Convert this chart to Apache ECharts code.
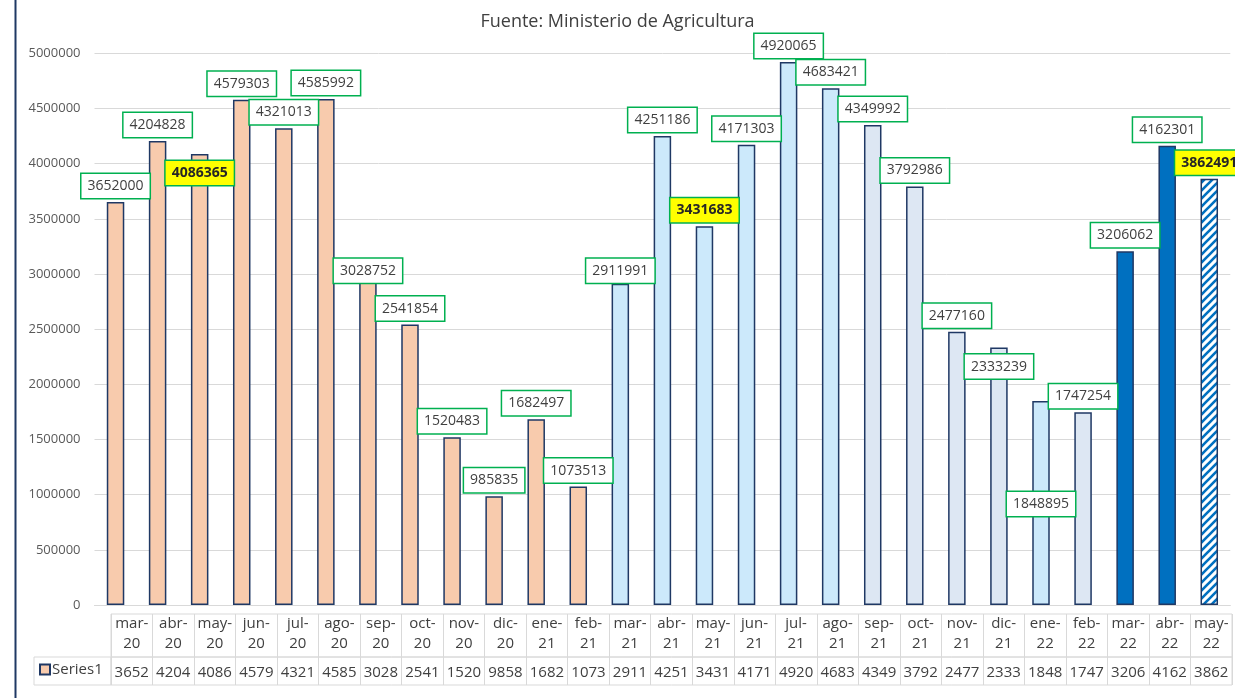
<!DOCTYPE html>
<html>
<head>
<meta charset="utf-8">
<script src="https://cdn.jsdelivr.net/npm/echarts@6/dist/echarts.min.js"></script>
<style>
  html, body { margin: 0; padding: 0; background: #fff; }
  #chart { width: 1235px; height: 698px; }
</style>
</head>
<body>
<div id="chart"></div>
<script>
// data
var months = ['mar-20', 'abr-20', 'may-20', 'jun-20', 'jul-20', 'ago-20', 'sep-20', 'oct-20', 'nov-20',
    'dic-20', 'ene-21', 'feb-21', 'mar-21', 'abr-21', 'may-21', 'jun-21', 'jul-21', 'ago-21', 'sep-21',
    'oct-21', 'nov-21', 'dic-21', 'ene-22', 'feb-22', 'mar-22', 'abr-22', 'may-22'];
var sales = [3652000, 4204828, 4086365, 4579303, 4321013, 4585992, 3028752, 2541854, 1520483,
    985835, 1682497, 1073513, 2911991, 4251186, 3431683, 4171303, 4920065, 4683421, 4349992,
    3792986, 2477160, 2333239, 1848895, 1747254, 3206062, 4162301, 3862491];
var yTicks = [0, 500000, 1000000, 1500000, 2000000, 2500000, 3000000, 3500000, 4000000, 4500000, 5000000];
var seriesName = 'Series1';
var highlighted = ['may-20', 'may-21', 'may-22'];

// styling
var navy = '#1F3864';
var peach = '#F8CBAD';
var lightBlue = '#CCE9FB';
var greyBlue = '#DDE7F3';
var strong = '#0070C0';

// diagonal hatch for the last (provisional) month
var hatch = document.createElement('canvas');
hatch.width = 8;
hatch.height = 8;
var hc = hatch.getContext('2d');
hc.fillStyle = '#fff';
hc.fillRect(0, 0, 8, 8);
hc.strokeStyle = strong;
hc.lineWidth = 2.6;
hc.beginPath();
hc.moveTo(-2, 10); hc.lineTo(10, -2);
hc.moveTo(-2, 2); hc.lineTo(2, -2);
hc.moveTo(6, 10); hc.lineTo(10, 6);
hc.stroke();

function barColor(i) {
    if (i < 12) return peach;
    if (i < 18) return lightBlue;
    if (i < 22) return greyBlue;
    if (i === 22) return lightBlue;
    if (i === 23) return greyBlue;
    if (i < 26) return strong;
    return { image: hatch, repeat: 'repeat' };
}

// labels Excel had dragged away from the bar top
var labelShift = { 'may-20': 35, 'sep-20': 16, 'mar-21': 3, 'dic-21': 35, 'ene-22': 119 };

var barData = sales.map(function (v, i) {
    var hl = highlighted.indexOf(months[i]) >= 0;
    return {
        value: v,
        itemStyle: { color: barColor(i) },
        label: {
            offset: [0, labelShift[months[i]] || 0],
            backgroundColor: hl ? '#FFFF00' : '#fff',
            fontWeight: hl ? 'bold' : 'normal',
            color: hl ? '#262626' : '#404040'
        }
    };
});

var chart = echarts.init(document.getElementById('chart'));
var option = {
    animation: false,
    textStyle: { fontFamily: 'Open Sans' },
    title: {
        text: 'Fuente: Ministerio de Agricultura',
        left: 'center',
        top: 8,
        textStyle: { fontSize: 18, fontWeight: 'normal', color: '#404040', fontFamily: 'Open Sans' }
    },
    legend: {
        left: 39,
        top: 662,
        itemWidth: 10,
        itemHeight: 10,
        itemGap: 0,
        padding: 0,
        data: [{ name: seriesName, icon: 'rect' }],
        textStyle: { fontSize: 15, color: '#404040', padding: [0, 0, 0, -3] }
    },
    grid: [
        { left: 94.5, right: 4.7, top: 53.3, bottom: 93 },
        { left: 111, right: 3, top: 614, height: 43, show: true, borderColor: '#D9D9D9', borderWidth: 1 },
        { left: 111, right: 3, top: 657, height: 28, show: true, borderColor: '#D9D9D9', borderWidth: 1 }
    ],
    xAxis: [
        {
            gridIndex: 0,
            type: 'category',
            data: months,
            axisLine: { lineStyle: { color: '#D9D9D9' } },
            axisTick: { show: false },
            axisLabel: { show: false }
        },
        {
            gridIndex: 1,
            type: 'category',
            data: months,
            position: 'top',
            axisLine: { show: false },
            axisTick: { show: false },
            splitLine: { show: true, interval: 0, lineStyle: { color: '#D9D9D9' } },
            axisLabel: {
                inside: true,
                interval: 0,
                margin: 0,
                fontSize: 15,
                lineHeight: 20,
                color: '#404040',
                formatter: function (v) {
                    var p = v.split('-');
                    return p[0] + '-\n' + p[1];
                }
            }
        },
        {
            gridIndex: 2,
            type: 'category',
            data: months,
            axisLine: { show: false },
            axisTick: { show: false },
            splitLine: { show: true, interval: 0, lineStyle: { color: '#D9D9D9' } },
            axisLabel: {
                inside: true,
                interval: 0,
                margin: 5,
                fontSize: 15,
                color: '#404040',
                formatter: function (v, i) {
                    return String(sales[i]).slice(0, 4);
                }
            }
        }
    ],
    yAxis: [
        {
            gridIndex: 0,
            type: 'value',
            min: yTicks[0],
            max: yTicks[yTicks.length - 1],
            interval: yTicks[1] - yTicks[0],
            axisLine: { show: false },
            axisTick: { show: false },
            axisLabel: {
                fontSize: 13,
                color: '#595959',
                margin: 14,
                formatter: function (v) { return String(v); }
            },
            splitLine: { lineStyle: { color: '#D9D9D9' } }
        },
        { gridIndex: 1, type: 'value', min: 0, max: 1, show: false },
        { gridIndex: 2, type: 'value', min: 0, max: 1, show: false }
    ],
    graphic: [
        {
            type: 'line',
            shape: { x1: 15.5, y1: 0, x2: 15.5, y2: 698 },
            style: { stroke: navy, lineWidth: 2 }
        },
        {
            type: 'rect',
            shape: { x: 34, y: 657, width: 77, height: 28 },
            style: { fill: 'none', stroke: '#D9D9D9', lineWidth: 1 }
        }
    ],
    series: [{
        name: seriesName,
        type: 'bar',
        xAxisIndex: 0,
        yAxisIndex: 0,
        barWidth: 17.5,
        itemStyle: { color: peach, borderColor: navy, borderWidth: 1.5 },
        label: {
            show: true,
            position: 'top',
            distance: 4,
            fontSize: 14,
            fontFamily: 'Open Sans',
            padding: [3, 6, 3, 6],
            lineHeight: 18,
            borderColor: '#00B050',
            borderWidth: 1.5
        },
        data: barData
    }]
};
chart.setOption(option);
</script>
</body>
</html>
